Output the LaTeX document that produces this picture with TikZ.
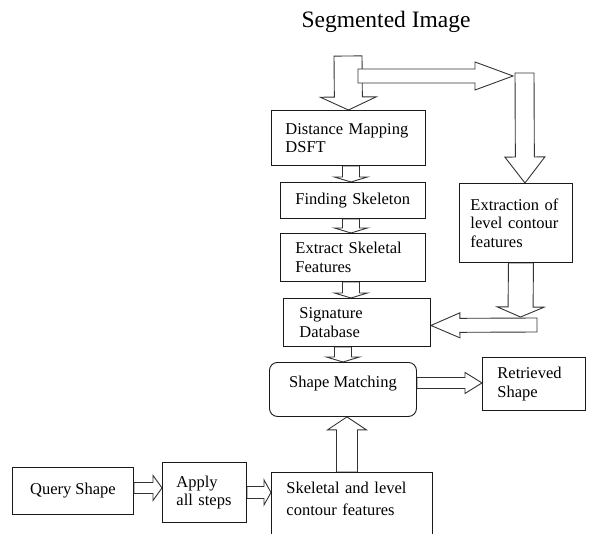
\documentclass[tikz,border=0pt]{standalone}
\usepackage{fontspec}
\setmainfont{Liberation Serif}
\usetikzlibrary{calc,backgrounds}
\definecolor{boxLine}{HTML}{1A1A1A}
\definecolor{arrowLine}{HTML}{333333}

\newcommand\boxfont{\fontsize{16.5}{18.5}\selectfont}
\newcommand\titlefont{\fontsize{23.5}{28}\selectfont}

% outlined block arrow: tail, tip, shaft half width, head half width, head length
\newcommand\fatarrow[5]{%
  \path (#1) coordinate (fa-s) (#2) coordinate (fa-e);
  \path ($(fa-e)!#5pt!(fa-s)$) coordinate (fa-b);
  \draw[fat] ($(fa-s)!#3pt!90:(fa-e)$) -- ($(fa-b)!#3pt!90:(fa-e)$)
    -- ($(fa-b)!#4pt!90:(fa-e)$) -- (fa-e)
    -- ($(fa-b)!#4pt!-90:(fa-e)$) -- ($(fa-b)!#3pt!-90:(fa-e)$)
    -- ($(fa-s)!#3pt!-90:(fa-e)$) -- cycle;
}

\begin{document}
\begin{tikzpicture}[
  x=1pt,y=-1pt,
  box/.style={draw=boxLine,line width=.9pt,fill=white,anchor=north west,align=left,inner xsep=15pt,inner ysep=2pt,font=\boxfont},
  fat/.style={draw=arrowLine,line width=.9pt,fill=white,line join=miter}
]
  \useasboundingbox (0,0) rectangle (593,534);

  \node[anchor=base,font=\titlefont] (title) at (386,28) {Segmented Image};

  % skeleton branch
  \node[box,text width=126pt,inner xsep=14pt,minimum height=55pt] (dm) at (271,110) {Distance Mapping\\DSFT};
  \node[box,text width=115pt,minimum height=36pt] (fs) at (280,182) {Finding Skeleton};
  \node[box,text width=115pt,minimum height=48pt] (esf) at (280,233) {Extract Skeletal\\Features};
  \node[box,text width=115pt,inner xsep=16pt,minimum height=48pt] (sd) at (283,298) {Signature\\Database};

  % contour branch
  \node[box,text width=91pt,inner xsep=11pt,minimum height=79pt] (ext) at (459,183) {Extraction of\\level contour\\features};

  % matching
  \node[box,rounded corners=8pt,align=center,minimum width=147pt,minimum height=54pt,text depth=15pt] (sm) at (269,362) {Shape Matching};
  \node[box,text width=73pt,minimum height=53pt] (rs) at (482,357) {Retrieved\\Shape};

  % query row
  \node[box,align=center,minimum width=121pt,minimum height=47pt] (qs) at (12,467) {Query Shape};
  \node[box,text width=56pt,inner xsep=14pt,minimum height=60pt] (apply) at (162,462) {Apply\\all steps};
  \node[box,text width=131pt,inner ysep=10pt] (skel) at (271,472) {Skeletal and level\\[3pt]contour features\\\mbox{}};

  \coordinate (split) at (348,56);
  \coordinate (fork) at (358,76);
  \coordinate (turn) at (513,76);
  \coordinate (bend) at (524.5,73);
  \coordinate (drop) at (520.5,317);
  \coordinate (corner) at (537,325);

  \begin{scope}[on background layer]
    \fill[white] (0,0) rectangle (593,534);
    \fatarrow{split}{dm.north}{14}{28}{13}
    \fatarrow{fork}{turn}{7}{14}{38}
    \fatarrow{bend}{[xshift=9pt]ext.north}{9.5}{20}{26}
    \fatarrow{[xshift=2.5pt]dm.south}{[xshift=2.5pt]dm.south |- fs.north}{8.5}{16.5}{5}
    \fatarrow{[xshift=-2pt]fs.south}{[xshift=-2pt]fs.south |- esf.north}{8.5}{16.5}{5}
    \fatarrow{[xshift=-2pt]esf.south}{[xshift=-2pt]esf.south |- sd.north}{8.5}{16.5}{5}
    \fatarrow{[xshift=5pt]ext.south}{drop}{12.5}{23.5}{10}
    \fatarrow{corner}{[yshift=-3pt]sd.east}{7}{12.5}{29}
    \fatarrow{sm.north |- sd.south}{sm.north}{8.5}{16.5}{5}
    \fatarrow{[yshift=6.5pt]sm.east}{[yshift=6.5pt]sm.east -| rs.west}{5.5}{10.5}{17}
    \fatarrow{[xshift=-5pt]skel.north}{[xshift=-5pt]skel.north |- sm.south}{10.5}{19.5}{13}
    \fatarrow{[yshift=3pt]qs.east}{[yshift=3pt]qs.east -| apply.west}{5.5}{12.5}{9}
    \fatarrow{apply.east}{apply.east -| skel.west}{6}{12.5}{7}
  \end{scope}
\end{tikzpicture}
\end{document}
